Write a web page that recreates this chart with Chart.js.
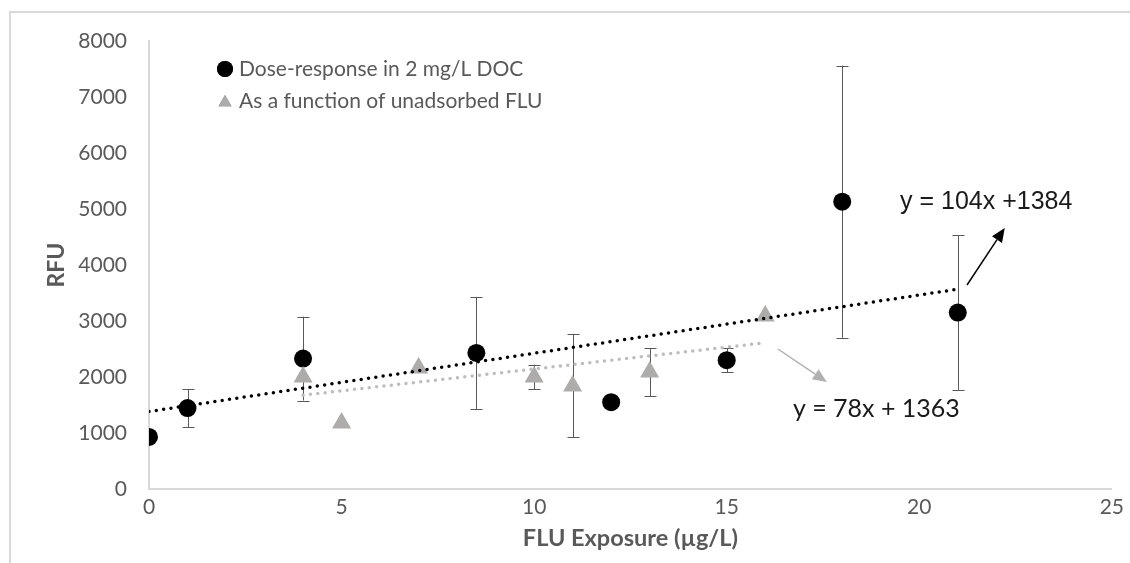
<!DOCTYPE html>
<html>
<head>
<meta charset="utf-8">
<title>FLU exposure vs RFU</title>
<script src="https://cdn.jsdelivr.net/npm/chart.js@4.4.1/dist/chart.umd.min.js"></script>
<style>
  html, body { margin: 0; padding: 0; background: #fff; }
  #wrap { position: relative; width: 1130px; height: 563px; }
</style>
</head>
<body>
<div id="wrap"><canvas id="fluChart"></canvas></div>
<script>
// Dose-response in 2 mg/L DOC (black circles)
const doseX = [0, 1, 4, 8.5, 12, 15, 18, 21];
const doseY = [930, 1445, 2330, 2430, 1550, 2300, 5130, 3150];
const doseErr = [0, 340, 750, 1000, 0, 210, 2430, 1380];

// As a function of unadsorbed FLU (grey triangles)
const unadsX = [4, 5, 7, 10, 11, 13, 16];
const unadsY = [2000, 1180, 2160, 2000, 1840, 2090, 3090];
const unadsErr = [0, 0, 0, 220, 920, 430, 0];

// Linear trendlines: slope, intercept, x range
const doseFit = { slope: 104, intercept: 1384, from: 0, to: 21 };
const unadsFit = { slope: 78, intercept: 1363, from: 4, to: 16 };

const xTicks = [0, 5, 10, 15, 20, 25];
const yTicks = [0, 1000, 2000, 3000, 4000, 5000, 6000, 7000, 8000];

const BLACK = '#000000';
const GREY = '#aeabab';
const AXIS_TEXT = '#595959';

function toPoints(xs, ys) {
    return xs.map((x, i) => ({ x: x, y: ys[i] }));
}

function fitLine(fit) {
    return [
        { x: fit.from, y: fit.slope * fit.from + fit.intercept },
        { x: fit.to, y: fit.slope * fit.to + fit.intercept }
    ];
}

// equation callouts: text anchor and arrow, in data units
const callouts = [
    { text: 'y = 104x +1384', at: [19.5, 5125], font: '25px "Liberation Sans"', color: '#1a1a1a',
      arrowFrom: [21.24, 3643], arrowTo: [22.22, 4661], arrowColor: '#000000' },
    { text: 'y = 78x + 1363', at: [16.72, 1430], font: '25px Lato', color: '#1a1a1a',
      arrowFrom: [16.33, 2500], arrowTo: [17.6, 1910], arrowColor: '#b0b0b0' }
];

// grey frame around the figure
const framePlugin = {
    id: 'frame',
    beforeDraw(chart) {
        const ctx = chart.ctx;
        ctx.save();
        ctx.strokeStyle = '#d9d9d9';
        ctx.lineWidth = 2;
        ctx.beginPath();
        ctx.moveTo(10, 563);
        ctx.lineTo(10, 12);
        ctx.lineTo(1130, 12);
        ctx.stroke();
        ctx.restore();
    }
};

// vertical error bars with caps, drawn under the markers
const errorBarPlugin = {
    id: 'errorBars',
    beforeDatasetsDraw(chart) {
        const ctx = chart.ctx;
        const xs = chart.scales.x, ys = chart.scales.y;
        ctx.save();
        ctx.strokeStyle = '#595959';
        ctx.lineWidth = 1;
        chart.data.datasets.forEach(ds => {
            if (!ds.errors) return;
            ds.data.forEach((p, i) => {
                const e = ds.errors[i];
                if (!e) return;
                const px = Math.round(xs.getPixelForValue(p.x)) + 0.5;
                const top = ys.getPixelForValue(p.y + e);
                const bot = ys.getPixelForValue(p.y - e);
                ctx.beginPath();
                ctx.moveTo(px, top);
                ctx.lineTo(px, bot);
                ctx.moveTo(px - 6, Math.round(top) + 0.5);
                ctx.lineTo(px + 6, Math.round(top) + 0.5);
                ctx.moveTo(px - 6, Math.round(bot) + 0.5);
                ctx.lineTo(px + 6, Math.round(bot) + 0.5);
                ctx.stroke();
            });
        });
        ctx.restore();
    }
};

function drawArrow(ctx, x1, y1, x2, y2, color) {
    const ang = Math.atan2(y2 - y1, x2 - x1);
    const head = 14, half = 6;
    const bx = x2 - head * Math.cos(ang), by = y2 - head * Math.sin(ang);
    ctx.strokeStyle = color;
    ctx.fillStyle = color;
    ctx.lineWidth = 1.5;
    ctx.beginPath();
    ctx.moveTo(x1, y1);
    ctx.lineTo(bx, by);
    ctx.stroke();
    ctx.beginPath();
    ctx.moveTo(x2, y2);
    ctx.lineTo(bx + half * Math.sin(ang), by - half * Math.cos(ang));
    ctx.lineTo(bx - half * Math.sin(ang), by + half * Math.cos(ang));
    ctx.closePath();
    ctx.fill();
}

// legend inside the plot plus the trendline equations
const overlayPlugin = {
    id: 'overlay',
    afterDatasetsDraw(chart) {
        const ctx = chart.ctx;
        const xs = chart.scales.x, ys = chart.scales.y;
        ctx.save();

        callouts.forEach(c => {
            drawArrow(ctx,
                xs.getPixelForValue(c.arrowFrom[0]), ys.getPixelForValue(c.arrowFrom[1]),
                xs.getPixelForValue(c.arrowTo[0]), ys.getPixelForValue(c.arrowTo[1]),
                c.arrowColor);
            ctx.font = c.font;
            ctx.fillStyle = c.color;
            ctx.textAlign = 'left';
            ctx.textBaseline = 'middle';
            ctx.fillText(c.text, xs.getPixelForValue(c.at[0]), ys.getPixelForValue(c.at[1]));
        });

        const items = [
            { label: 'Dose-response in 2 mg/L DOC', style: 'circle', color: BLACK, r: 8 },
            { label: 'As a function of unadsorbed FLU', style: 'triangle', color: GREY, r: 7.5 }
        ];
        ctx.font = '21px Lato';
        ctx.textAlign = 'left';
        ctx.textBaseline = 'middle';
        items.forEach((it, i) => {
            const y = 69 + i * 32;
            Chart.helpers.drawPoint(ctx, {
                pointStyle: it.style, radius: it.r, rotation: 0, borderWidth: 0
            }, 225, y + (it.style === 'triangle' ? 1.5 : 0));
            ctx.fillStyle = it.color;
            ctx.fill();
            ctx.fillStyle = AXIS_TEXT;
            ctx.fillText(it.label, 239, y);
        });
        ctx.restore();
    }
};

function renderChart() {
    const ctx = document.getElementById('fluChart').getContext('2d');
    new Chart(ctx, {
        type: 'scatter',
        data: {
            datasets: [
                {
                    type: 'line',
                    label: 'Linear (dose-response)',
                    data: fitLine(doseFit),
                    borderColor: BLACK,
                    borderWidth: 3.5,
                    borderDash: [0, 7.4],
                    borderCapStyle: 'round',
                    pointRadius: 0,
                    fill: false
                },
                {
                    type: 'line',
                    label: 'Linear (unadsorbed)',
                    data: fitLine(unadsFit),
                    borderColor: '#bdbdbd',
                    borderWidth: 3.5,
                    borderDash: [0, 7.4],
                    borderCapStyle: 'round',
                    pointRadius: 0,
                    fill: false
                },
                {
                    label: 'As a function of unadsorbed FLU',
                    data: toPoints(unadsX, unadsY),
                    errors: unadsErr,
                    pointStyle: 'triangle',
                    pointRadius: 11,
                    pointHoverRadius: 11,
                    backgroundColor: GREY,
                    borderWidth: 0
                },
                {
                    label: 'Dose-response in 2 mg/L DOC',
                    data: toPoints(doseX, doseY),
                    errors: doseErr,
                    pointStyle: 'circle',
                    pointRadius: 9,
                    pointHoverRadius: 9,
                    backgroundColor: BLACK,
                    borderWidth: 0
                }
            ]
        },
        options: {
            responsive: false,
            animation: false,
            layout: { padding: { left: 10, top: 41, right: 18, bottom: 0 } },
            plugins: {
                legend: { display: false },
                tooltip: { enabled: false }
            },
            scales: {
                x: {
                    type: 'linear',
                    min: 0,
                    max: 25,
                    afterBuildTicks: s => { s.ticks = xTicks.map(v => ({ value: v })); },
                    afterFit: s => { s.height = 74; },
                    grid: { display: false, drawTicks: false },
                    border: { color: '#d9d9d9', width: 2 },
                    ticks: {
                        color: AXIS_TEXT,
                        font: { family: 'Lato', size: 21 },
                        padding: 6,
                        callback: v => String(v)
                    },
                    title: {
                        display: true,
                        text: 'FLU Exposure (µg/L)',
                        color: AXIS_TEXT,
                        font: { family: 'Lato', size: 23.5, weight: 'bold' },
                        padding: { bottom: 10 }
                    }
                },
                y: {
                    min: 0,
                    max: 8000,
                    afterBuildTicks: s => { s.ticks = yTicks.map(v => ({ value: v })); },
                    afterFit: s => { s.width = 139; },
                    grid: { display: false, drawTicks: false },
                    border: { color: '#d9d9d9', width: 2 },
                    ticks: {
                        color: AXIS_TEXT,
                        font: { family: 'Lato', size: 21 },
                        padding: 22,
                        callback: v => String(v)
                    },
                    title: {
                        display: true,
                        text: 'RFU',
                        color: AXIS_TEXT,
                        font: { family: 'Lato', size: 23, weight: 'bold' },
                        padding: { top: 33 }
                    }
                }
            }
        },
        plugins: [framePlugin, errorBarPlugin, overlayPlugin]
    });
}

const canvas = document.getElementById('fluChart');
canvas.width = 1130;
canvas.height = 563;
renderChart();
</script>
</body>
</html>
